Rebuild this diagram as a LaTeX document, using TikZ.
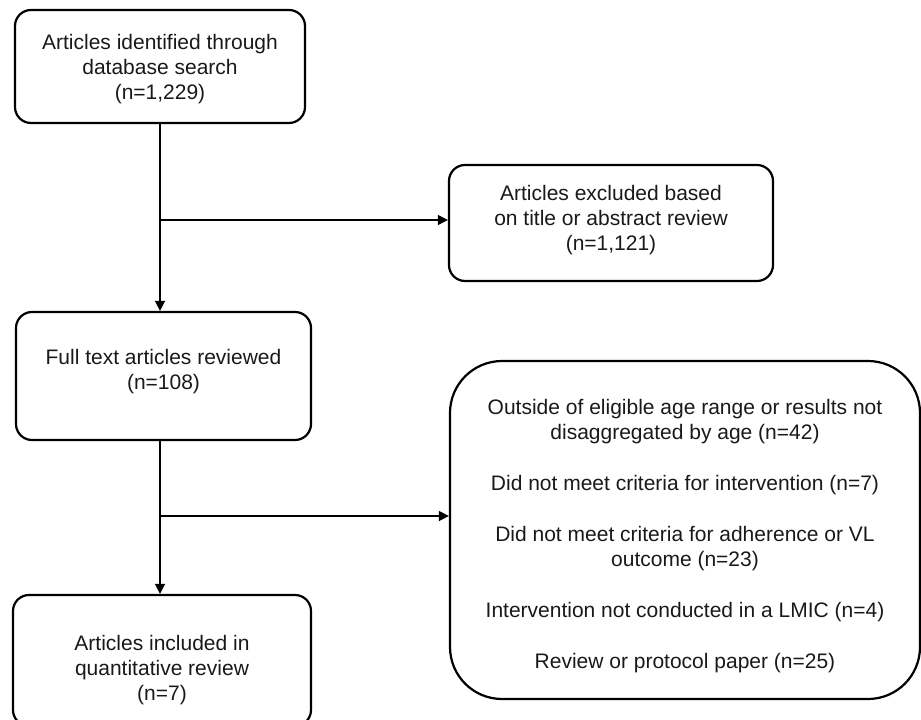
\documentclass[tikz,border=0pt]{standalone}
\usepackage{fontspec}
\setmainfont{Liberation Sans}
\usetikzlibrary{arrows.meta}
\newcommand\toppad[1]{\rule{0pt}{#1}}
\newcommand\botpad[1]{\rule[-#1]{0pt}{0pt}}
\begin{document}
\begin{tikzpicture}[x=1pt,y=-1pt,
  box/.style={draw, line width=2.2pt, rounded corners=16pt, align=center,
    font=\fontsize{21}{25}\selectfont, inner sep=0pt, text=black!90},
  conn/.style={line width=1.4pt},
  arr/.style={conn, -{Triangle[length=10pt,width=10pt]}}]
\useasboundingbox (0,0) rectangle (921,720);
\clip (0,0) rectangle (921,720);
\node[box, minimum width=290pt, minimum height=113pt] (b1) at (160,66.5)
  {\toppad{19.4pt}Articles identified through\\database search\\(n=1,229)};
\node[box, minimum width=324pt, minimum height=116pt] (b2) at (611,223)
  {Articles excluded based\\on title or abstract review\\(n=1,121)\botpad{11.2pt}};
\node[box, minimum width=295pt, minimum height=128pt] (b3) at (163.5,376)
  {Full text articles reviewed\\(n=108)\botpad{13.2pt}};
\node[box, minimum width=298pt, minimum height=131pt] (b4) at (162,660.5)
  {\toppad{34pt}Articles included in\\quantitative review\\(n=7)};
\node[box, rounded corners=52pt, minimum width=470pt, minimum height=338pt] (b5) at (685,530)
  {\toppad{26.4pt}Outside of eligible age range or results not\\disaggregated by age (n=42)\\[26pt]Did not meet criteria for intervention (n=7)\\[26pt]Did not meet criteria for adherence or VL\\outcome (n=23)\\[26pt]Intervention not conducted in a LMIC (n=4)\\[26pt]Review or protocol paper (n=25)};
\coordinate (j1) at (160,220);
\coordinate (j2) at (160,516);
\draw[arr] (b1.south) -- (b1.south |- b3.north);
\draw[arr] (j1) -- (j1 -| b2.west);
\draw[arr] (b3.south -| j2) -- (b4.north -| j2);
\draw[arr] (j2) -- (j2 -| b5.west);
\end{tikzpicture}
\end{document}
